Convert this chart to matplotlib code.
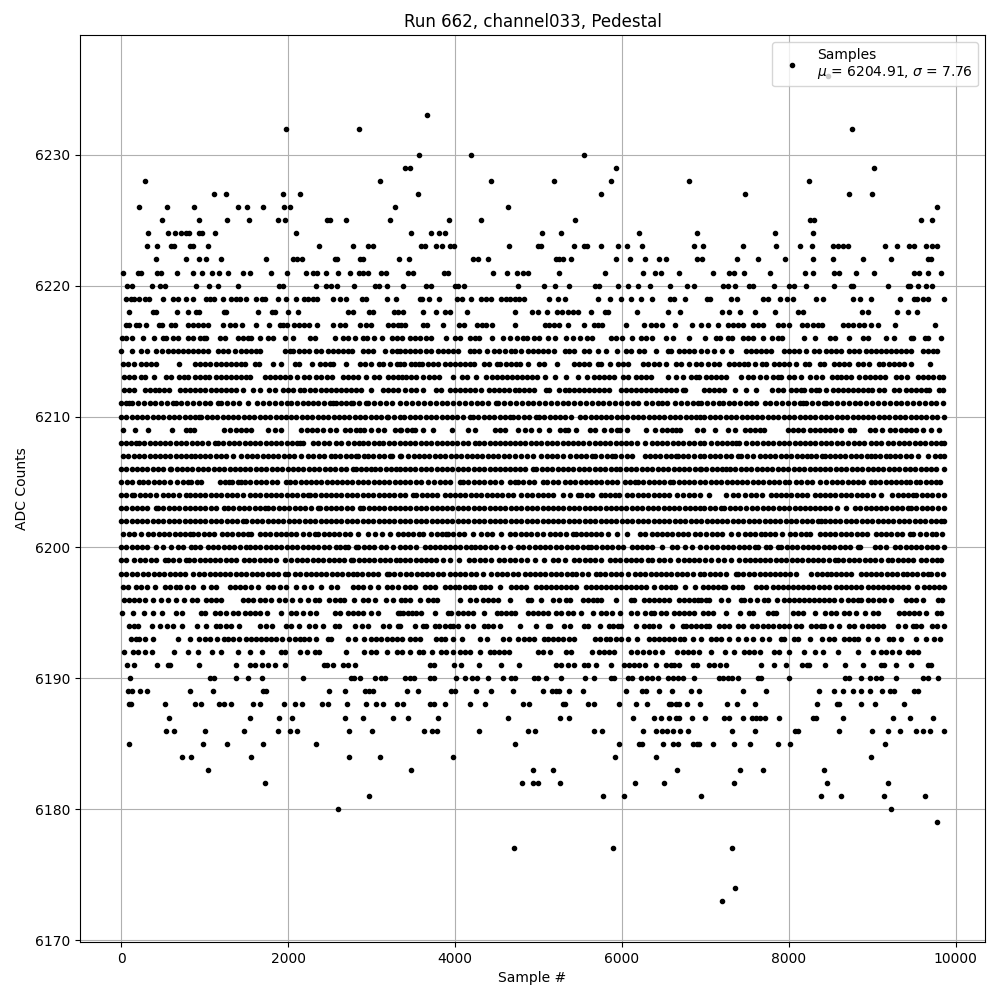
import numpy as np
import matplotlib
matplotlib.use("Agg")
import matplotlib.pyplot as plt

# sample numbers at which each ADC count was seen
s6236 = [8470]
s6233 = [3664]
s6232 = [1976, 2852, 8755]
s6230 = [3568, 4190, 5544]
s6229 = [3396, 3460, 5928, 9018]
s6228 = [284, 3104, 4430, 5185, 5868, 6802, 8240]
s6227 = [1112, 1256, 1940, 2144, 3556, 5748, 7473, 8719, 8994]
s6226 = [212, 548, 872, 1400, 1508, 1700, 1952, 2024, 3284, 4634, 9773]
s6225 = [488, 932, 1268, 1532, 1880, 1964, 2468, 2500, 2696, 3224, 3927, 4310, 5436, 8260, 8308, 9581, 9713]
s6224 = [320, 560, 644, 716, 772, 812, 932, 964, 1124, 2096, 3472, 3711, 3807, 3879, 5041, 5269, 6203, 6906, 7832, 8288]
s6223 = [308, 428, 596, 628, 820, 860, 1040, 2372, 2780, 2960, 3020, 3596, 3636, 3771, 3843, 3935, 3983, 4646, 4997, 5037,
         5424, 5544, 5584, 5748, 5951, 6059, 6239, 6862, 6970, 7449, 7844, 8132, 8276, 8527, 8587, 8647, 8707, 9150, 9294,
         9446, 9506, 9645, 9713, 9773]
s6222 = [416, 776, 932, 1016, 1196, 1736, 2060, 2108, 2168, 2564, 2588, 2860, 2900, 3332, 3448, 4222, 4274, 4394, 5213, 5253,
         5300, 5388, 5928, 6095, 6275, 6443, 6526, 6898, 6958, 7377, 7629, 7952, 8288, 8527, 8887, 9222, 9665, 9705]
s6221 = [20, 200, 240, 428, 480, 668, 860, 968, 1088, 1172, 1280, 1460, 1544, 1796, 1988, 2220, 2300, 2348, 2456, 2600, 2744,
         2852, 2900, 2960, 3120, 3172, 3436, 3496, 3867, 3915, 4454, 4622, 4742, 4813, 4873, 5245, 5796, 6251, 6395, 6467,
         6682, 7090, 7289, 7349, 7461, 7772, 8192, 8288, 8547, 8607, 8807, 9018, 9498, 9565, 9665, 9821]
s6220 = [68, 132, 368, 460, 520, 896, 1052, 1160, 1400, 1892, 1940, 2336, 2456, 2520, 2588, 2792, 3044, 3092, 3188, 3376, 3651,
         3715, 3995, 4035, 4103, 4754, 5065, 5197, 5364, 5676, 5724, 5951, 6071, 6191, 6335, 6574, 6778, 6862, 7210, 7269,
         7353, 7529, 7577, 7820, 8000, 8068, 8204, 8539, 8747, 8775, 9186, 9426, 9454, 9545, 9641, 9713]
s6219 = [60, 120, 160, 212, 280, 332, 500, 620, 684, 772, 860, 1012, 1060, 1116, 1220, 1320, 1372, 1420, 1492, 1616, 1688, 1728,
         1876, 1976, 2092, 2188, 2240, 2300, 2348, 2540, 2628, 2692, 2884, 2932, 3184, 3296, 3576, 3608, 3687, 3807, 4023,
         4083, 4190, 4314, 4374, 4434, 4554, 4606, 4662, 4714, 4766, 4825, 5133, 5241, 5313, 5712, 5856, 5987, 6115, 6227,
         6359, 6574, 6630, 6754, 7018, 7062, 7305, 7377, 7697, 7749, 7892, 7976, 8048, 8324, 8407, 8775, 8859, 8982, 9330,
         9498, 9534, 9605, 9665, 9857]
s6218 = [92, 380, 420, 668, 800, 892, 932, 1228, 1260, 1640, 1804, 1848, 2000, 2120, 2720, 2780, 2972, 3020, 3272, 3320, 3376,
         3616, 3771, 3879, 3939, 4143, 4718, 4921, 4993, 5101, 5221, 5281, 5352, 5412, 5472, 5628, 5796, 5832, 6179, 6550,
         6694, 7198, 7281, 7413, 7593, 7832, 8108, 8168, 8875, 8946, 9294, 9426, 9534]
s6217 = [60, 100, 180, 220, 296, 452, 484, 600, 640, 800, 860, 920, 980, 1040, 1220, 1304, 1360, 1448, 1616, 1772, 1900, 1940,
         1988, 2068, 2128, 2188, 2248, 2348, 2540, 2620, 2680, 2864, 2932, 3000, 3200, 3260, 3320, 3356, 3396, 3616, 3663,
         3855, 4047, 4103, 4262, 4322, 4374, 4442, 4714, 5077, 5133, 5193, 5253, 5352, 5544, 5664, 5720, 5760, 6047, 6263,
         6347, 6411, 6479, 6634, 6838, 6950, 7030, 7158, 7269, 7329, 7389, 7449, 7569, 7629, 7689, 7868, 7928, 8000, 8156,
         8216, 8288, 8348, 8400, 8647, 8707, 8767, 8847, 8907, 8986, 9066, 9270, 9749]
s6216 = [12, 60, 128, 260, 392, 500, 540, 620, 680, 800, 860, 940, 988, 1020, 1180, 1240, 1400, 1460, 1520, 1560, 1664, 1760,
         1820, 1964, 2060, 2260, 2328, 2564, 2660, 2720, 2804, 2900, 2952, 3032, 3132, 3240, 3300, 3364, 3464, 3516, 3584,
         3655, 3715, 3891, 3999, 4059, 4178, 4246, 4294, 4442, 4574, 4658, 4742, 4813, 4861, 4945, 5005, 5113, 5197, 5332,
         5412, 5496, 5580, 5640, 5868, 5932, 6000, 6119, 6227, 6291, 6359, 6526, 6610, 6802, 6994, 7130, 7182, 7269, 7321,
         7449, 7509, 7569, 7689, 7796, 7868, 7916, 8180, 8312, 8495, 8555, 8719, 8887, 8947, 9162, 9258, 9466, 9494, 9629,
         9665, 9821]
s6215 = [0, 128, 240, 308, 420, 484, 560, 620, 680, 740, 800, 860, 920, 980, 1040, 1160, 1220, 1280, 1360, 1440, 1500, 1560,
         1620, 1668, 1960, 2020, 2060, 2128, 2188, 2252, 2340, 2400, 2480, 2540, 2600, 2660, 2720, 2768, 2900, 2960, 3020,
         3160, 3240, 3300, 3336, 3396, 3456, 3516, 3576, 3655, 3715, 3795, 3855, 3915, 3975, 4035, 4175, 4234, 4294, 4382,
         4474, 4534, 4594, 4674, 4714, 4789, 4873, 4933, 4993, 5053, 5113, 5185, 5313, 5372, 5432, 5552, 5612, 5712, 5808,
         5940, 6051, 6111, 6211, 6271, 6407, 6550, 6590, 6690, 6750, 6810, 6870, 6950, 7018, 7110, 7198, 7313, 7489, 7549,
         7609, 7669, 7729, 7788, 7948, 8008, 8068, 8128, 8208, 8308, 8367, 8447, 8507, 8567, 8627, 8727, 8787, 8847, 8926,
         8986, 9046, 9106, 9166, 9226, 9286, 9346, 9406, 9466, 9605, 9665, 9725, 9773]
s6214 = [20, 80, 160, 240, 300, 360, 420, 696, 880, 940, 1000, 1060, 1140, 1200, 1252, 1312, 1380, 1440, 1488, 1600, 1652, 1820,
         1920, 2080, 2128, 2288, 2380, 2440, 2500, 2540, 2700, 2860, 2920, 3000, 3092, 3140, 3220, 3300, 3336, 3392, 3476,
         3516, 3564, 3608, 3675, 3735, 3795, 3875, 3935, 3995, 4055, 4115, 4175, 4234, 4354, 4414, 4502, 4542, 4606, 4666,
         4726, 4774, 4873, 5013, 5073, 5221, 5432, 5492, 5552, 5612, 5712, 5752, 5856, 5951, 6011, 6071, 6251, 6311, 6391,
         6451, 6531, 6650, 6710, 6810, 6890, 6950, 7030, 7110, 7162, 7289, 7349, 7409, 7469, 7509, 7593, 7677, 7729, 7828,
         7888, 7948, 8000, 8084, 8200, 8248, 8375, 8427, 8547, 8607, 8667, 8727, 8827, 8887, 8966, 9078, 9134, 9206, 9266,
         9326, 9386, 9466, 9689]
s6213 = [40, 100, 160, 240, 280, 392, 540, 600, 692, 748, 800, 880, 940, 1000, 1052, 1140, 1200, 1260, 1320, 1380, 1440, 1500,
         1548, 1728, 1788, 1848, 1908, 1968, 2028, 2108, 2188, 2252, 2340, 2400, 2468, 2532, 2660, 2720, 2780, 2840, 2940,
         3028, 3092, 3200, 3260, 3320, 3368, 3416, 3476, 3536, 3616, 3695, 3755, 3815, 3975, 4083, 4147, 4258, 4370, 4442,
         4502, 4562, 4622, 4682, 4742, 4801, 4861, 4921, 4981, 5085, 5197, 5328, 5472, 5580, 5672, 5732, 5792, 5844, 5912,
         6011, 6071, 6171, 6231, 6291, 6351, 6550, 6650, 6730, 6830, 6890, 6930, 7010, 7070, 7130, 7190, 7249, 7425, 7509,
         7569, 7653, 7725, 7808, 7868, 7908, 8008, 8068, 8148, 8252, 8328, 8400, 8519, 8579, 8627, 8687, 8747, 8839, 8915,
         8975, 9034, 9094, 9154, 9286, 9346, 9414, 9545, 9605, 9665, 9725, 9805, 9845]
s6212 = [40, 100, 160, 280, 340, 400, 452, 512, 572, 700, 760, 820, 880, 940, 1000, 1080, 1140, 1200, 1260, 1320, 1380, 1460,
         1580, 1664, 1768, 1840, 1940, 2000, 2060, 2140, 2188, 2260, 2320, 2400, 2460, 2520, 2580, 2640, 2700, 2760, 2820,
         2880, 3000, 3140, 3200, 3260, 3320, 3396, 3476, 3536, 3616, 3775, 3835, 3935, 3995, 4055, 4115, 4175, 4246, 4310,
         4406, 4466, 4526, 4586, 4646, 4714, 4766, 4833, 4893, 4953, 5093, 5133, 5253, 5313, 5372, 5432, 5492, 5552, 5612,
         5672, 5732, 5792, 5852, 5991, 6051, 6111, 6171, 6231, 6291, 6351, 6411, 6471, 6531, 6590, 6650, 6730, 6762, 6990,
         7050, 7110, 7170, 7229, 7361, 7493, 7609, 7796, 7868, 7928, 8028, 8088, 8148, 8188, 8268, 8328, 8367, 8447, 8527,
         8587, 8647, 8707, 8767, 8827, 8887, 8946, 8998, 9086, 9146, 9266, 9326, 9406, 9466, 9526, 9585, 9645, 9685, 9805, 9845]
s6211 = [0, 60, 100, 130, 200, 270, 340, 410, 480, 550, 620, 652, 720, 790, 860, 930, 1000, 1070, 1160, 1200, 1270, 1340, 1408,
         1520, 1628, 1700, 1770, 1840, 1910, 1988, 2040, 2110, 2180, 2240, 2300, 2360, 2430, 2500, 2540, 2572, 2640, 2700,
         2760, 2780, 2850, 2940, 2960, 3030, 3100, 3170, 3240, 3340, 3416, 3490, 3560, 3630, 3700, 3770, 3840, 3910, 3980,
         4050, 4120, 4190, 4260, 4330, 4400, 4496, 4516, 4590, 4660, 4730, 4800, 4870, 4940, 5010, 5080, 5150, 5220, 5290,
         5360, 5430, 5500, 5570, 5640, 5710, 5780, 5850, 5920, 5990, 6060, 6136, 6196, 6288, 6360, 6430, 6480, 6536, 6636,
         6710, 6780, 6856, 6916, 6950, 7020, 7090, 7162, 7210, 7280, 7350, 7420, 7490, 7550, 7610, 7710, 7780, 7850, 7920,
         7990, 8060, 8130, 8170, 8210, 8280, 8350, 8420, 8450, 8510, 8580, 8650, 8720, 8790, 8860, 8930, 9000, 9070, 9140,
         9210, 9280, 9350, 9420, 9490, 9560, 9630, 9700, 9770, 9850]
s6210 = [0, 62, 125, 190, 250, 315, 380, 440, 505, 570, 630, 695, 760, 820, 885, 928, 960, 1025, 1090, 1150, 1215, 1280, 1340,
         1405, 1470, 1530, 1595, 1660, 1720, 1785, 1850, 1910, 1975, 2040, 2100, 2165, 2230, 2290, 2355, 2420, 2480, 2545,
         2610, 2670, 2735, 2800, 2860, 2925, 2990, 3050, 3115, 3180, 3200, 3265, 3340, 3395, 3460, 3525, 3585, 3650, 3715,
         3775, 3840, 3905, 3965, 4030, 4095, 4184, 4216, 4280, 4345, 4405, 4470, 4535, 4595, 4656, 4696, 4760, 4825, 4885,
         4976, 5008, 5070, 5135, 5200, 5260, 5316, 5396, 5496, 5560, 5625, 5685, 5750, 5815, 5875, 5940, 6005, 6065, 6130,
         6195, 6255, 6320, 6385, 6445, 6510, 6575, 6635, 6700, 6765, 6825, 6890, 6936, 6990, 7055, 7115, 7180, 7245, 7305,
         7370, 7435, 7495, 7560, 7625, 7685, 7750, 7815, 7875, 7940, 8005, 8065, 8130, 8195, 8255, 8320, 8385, 8445, 8510,
         8575, 8635, 8700, 8765, 8825, 8890, 8955, 9015, 9080, 9145, 9205, 9270, 9335, 9395, 9460, 9525, 9585, 9650, 9715,
         9775, 9859]
s6209 = [20, 164, 316, 608, 772, 820, 876, 1232, 1300, 1380, 1440, 1500, 1560, 1760, 1840, 1920, 2160, 2225, 2290, 2350, 2415,
         2500, 2576, 2680, 2745, 2810, 2860, 2912, 3000, 3080, 3152, 3280, 3340, 3356, 3420, 3480, 3516, 3616, 3736, 3968,
         4156, 4236, 4476, 4540, 4596, 4756, 4840, 4916, 5008, 5128, 5256, 5320, 5356, 5456, 5616, 5676, 5788, 5876, 5940,
         5976, 6064, 6292, 6400, 6476, 6540, 6600, 6650, 6696, 6896, 6978, 7114, 7270, 7362, 7470, 7530, 7590, 7650, 7702,
         7990, 8050, 8110, 8174, 8250, 8310, 8370, 8430, 8495, 8560, 8630, 8730, 8778, 8978, 9030, 9122, 9210, 9275, 9340,
         9400, 9465, 9530, 9610, 9710, 9802]
s6208 = [0, 60, 120, 180, 212, 275, 340, 400, 465, 530, 590, 655, 720, 780, 845, 910, 970, 1035, 1120, 1160, 1225, 1290, 1350,
         1415, 1480, 1540, 1605, 1670, 1730, 1795, 1860, 1920, 1985, 2050, 2110, 2140, 2180, 2300, 2365, 2430, 2495, 2580,
         2640, 2720, 2785, 2850, 2900, 2960, 3025, 3092, 3140, 3205, 3270, 3340, 3396, 3460, 3525, 3590, 3650, 3715, 3780,
         3840, 3905, 3970, 4030, 4095, 4160, 4236, 4288, 4350, 4415, 4480, 4540, 4605, 4656, 4716, 4780, 4845, 4910, 4970,
         5035, 5100, 5160, 5225, 5290, 5350, 5415, 5480, 5540, 5605, 5676, 5736, 5800, 5860, 5925, 5990, 6050, 6115, 6180,
         6276, 6356, 6420, 6485, 6536, 6616, 6676, 6736, 6800, 6865, 6936, 6990, 7070, 7135, 7200, 7260, 7325, 7370, 7410,
         7482, 7562, 7625, 7690, 7750, 7815, 7880, 7940, 8005, 8070, 8130, 8195, 8260, 8320, 8385, 8450, 8510, 8575, 8640,
         8710, 8778, 8840, 8905, 8990, 9050, 9110, 9190, 9255, 9320, 9380, 9445, 9510, 9570, 9635, 9700, 9760, 9825, 9859]
s6207 = [20, 85, 160, 212, 275, 340, 400, 465, 530, 590, 655, 720, 780, 840, 880, 945, 1010, 1070, 1135, 1200, 1260, 1340, 1440,
         1505, 1570, 1630, 1695, 1760, 1820, 1885, 1950, 2010, 2075, 2160, 2240, 2305, 2370, 2430, 2520, 2560, 2625, 2690,
         2750, 2820, 2840, 2905, 2960, 3020, 3085, 3150, 3220, 3240, 3340, 3356, 3436, 3504, 3570, 3635, 3695, 3760, 3825,
         3885, 3950, 4015, 4075, 4140, 4205, 4265, 4330, 4395, 4455, 4520, 4585, 4645, 4716, 4796, 4860, 4936, 5036, 5100,
         5165, 5225, 5290, 5376, 5448, 5516, 5576, 5640, 5676, 5756, 5820, 5885, 5916, 5996, 6060, 6116, 6276, 6336, 6396,
         6460, 6525, 6585, 6650, 6676, 6728, 6796, 6860, 6936, 6990, 7055, 7120, 7180, 7245, 7310, 7390, 7430, 7495, 7570,
         7650, 7715, 7775, 7840, 7905, 7965, 8030, 8095, 8155, 8220, 8270, 8330, 8395, 8430, 8490, 8555, 8620, 8680, 8745,
         8810, 8870, 8935, 8990, 9030, 9095, 9160, 9210, 9270, 9335, 9400, 9470, 9554, 9670, 9750, 9810, 9859]
s6206 = [0, 62, 125, 190, 250, 315, 380, 440, 505, 580, 600, 665, 730, 790, 855, 920, 980, 1045, 1110, 1170, 1235, 1300, 1360,
         1425, 1490, 1550, 1615, 1680, 1740, 1805, 1870, 1930, 1995, 2060, 2120, 2185, 2250, 2310, 2375, 2440, 2500, 2565,
         2630, 2690, 2780, 2812, 2875, 2940, 3000, 3040, 3105, 3170, 3230, 3295, 3340, 3400, 3465, 3525, 3590, 3655, 3715,
         3780, 3845, 3905, 3970, 4035, 4095, 4160, 4225, 4285, 4350, 4415, 4475, 4540, 4596, 4656, 4720, 4785, 4845, 4936,
         4976, 5040, 5105, 5165, 5230, 5295, 5355, 5420, 5485, 5545, 5610, 5675, 5735, 5800, 5865, 5936, 5984, 6050, 6115,
         6175, 6240, 6305, 6365, 6430, 6495, 6555, 6620, 6685, 6745, 6810, 6875, 6936, 6950, 7010, 7075, 7140, 7200, 7250,
         7298, 7360, 7425, 7490, 7550, 7615, 7680, 7740, 7805, 7870, 7930, 7995, 8060, 8120, 8185, 8250, 8310, 8375, 8440,
         8500, 8565, 8630, 8690, 8755, 8820, 8880, 8945, 9010, 9070, 9135, 9200, 9260, 9325, 9390, 9450, 9515, 9580, 9640,
         9705, 9770, 9859]
s6205 = [0, 65, 130, 220, 260, 325, 390, 450, 515, 588, 664, 740, 800, 840, 905, 960, 1188, 1250, 1292, 1332, 1395, 1440, 1488,
         1550, 1615, 1680, 1740, 1805, 1870, 1980, 2020, 2085, 2150, 2210, 2275, 2340, 2400, 2465, 2530, 2590, 2652, 2708,
         2770, 2835, 2900, 2960, 3025, 3090, 3150, 3215, 3280, 3340, 3400, 3465, 3530, 3590, 3676, 3748, 3816, 3880, 3945,
         4056, 4096, 4160, 4225, 4285, 4350, 4415, 4475, 4548, 4656, 4716, 4756, 4820, 4885, 4945, 5056, 5108, 5170, 5235,
         5316, 5376, 5440, 5505, 5565, 5630, 5695, 5755, 5820, 5885, 5945, 6036, 6096, 6160, 6196, 6256, 6320, 6385, 6445,
         6510, 6576, 6616, 6680, 6745, 6805, 6870, 6936, 7000, 7065, 7125, 7190, 7255, 7315, 7380, 7445, 7505, 7570, 7635,
         7695, 7760, 7825, 7885, 7950, 8002, 8090, 8150, 8215, 8280, 8370, 8442, 8518, 8578, 8642, 8705, 8770, 8830, 8895,
         8990, 9030, 9095, 9160, 9220, 9285, 9350, 9410, 9450, 9530, 9578, 9640, 9705, 9765, 9818]
s6204 = [0, 60, 132, 160, 225, 290, 350, 420, 500, 560, 625, 690, 772, 820, 885, 950, 1010, 1075, 1140, 1200, 1265, 1330, 1390,
         1455, 1540, 1600, 1668, 1730, 1795, 1860, 1920, 1985, 2050, 2110, 2175, 2240, 2260, 2325, 2390, 2450, 2515, 2580,
         2640, 2705, 2770, 2830, 2895, 2960, 3020, 3085, 3150, 3210, 3275, 3340, 3400, 3496, 3536, 3600, 3665, 3725, 3790,
         3876, 3936, 4000, 4065, 4125, 4190, 4255, 4315, 4380, 4445, 4505, 4570, 4635, 4695, 4796, 4864, 4928, 4990, 5055,
         5115, 5180, 5296, 5376, 5476, 5516, 5580, 5645, 5756, 5796, 5860, 5916, 5968, 6064, 6125, 6190, 6255, 6315, 6380,
         6445, 6505, 6570, 6656, 6736, 6800, 6865, 6936, 7050, 7246, 7330, 7395, 7470, 7550, 7610, 7675, 7790, 7842, 7905,
         7970, 8030, 8095, 8160, 8220, 8310, 8370, 8435, 8500, 8560, 8625, 8690, 8750, 8815, 8880, 8940, 9005, 9110, 9242,
         9305, 9370, 9430, 9490, 9530, 9595, 9660, 9720, 9785, 9859]
s6203 = [0, 60, 125, 190, 250, 315, 420, 440, 505, 570, 630, 695, 760, 820, 885, 950, 1010, 1075, 1140, 1228, 1280, 1345, 1410,
         1470, 1535, 1600, 1660, 1720, 1760, 1825, 1890, 1950, 2015, 2080, 2140, 2205, 2270, 2360, 2388, 2450, 2515, 2580,
         2640, 2705, 2770, 2860, 2900, 2965, 3030, 3090, 3155, 3220, 3280, 3340, 3400, 3465, 3530, 3590, 3655, 3720, 3780,
         3845, 3910, 3970, 4035, 4100, 4160, 4225, 4290, 4350, 4415, 4480, 4540, 4605, 4670, 4730, 4795, 4860, 4920, 4985,
         5050, 5110, 5175, 5240, 5300, 5365, 5430, 5490, 5555, 5616, 5676, 5740, 5805, 5865, 5930, 5995, 6055, 6120, 6185,
         6245, 6310, 6375, 6435, 6500, 6565, 6625, 6690, 6755, 6815, 6880, 6936, 6990, 7055, 7120, 7190, 7230, 7295, 7360,
         7420, 7482, 7562, 7625, 7690, 7750, 7815, 7880, 7940, 8005, 8070, 8130, 8195, 8250, 8310, 8375, 8440, 8500, 8578,
         8690, 8790, 8855, 8920, 8980, 9045, 9110, 9170, 9235, 9300, 9360, 9425, 9470, 9530, 9595, 9660, 9720, 9785, 9859]
s6202 = [0, 62, 125, 190, 250, 315, 380, 440, 505, 570, 630, 695, 760, 820, 885, 950, 1010, 1075, 1140, 1200, 1265, 1330, 1390,
         1460, 1500, 1565, 1630, 1690, 1755, 1820, 1880, 1945, 2010, 2070, 2135, 2200, 2260, 2325, 2390, 2450, 2515, 2580,
         2640, 2705, 2770, 2830, 2895, 2960, 3020, 3085, 3150, 3210, 3275, 3340, 3400, 3465, 3530, 3590, 3655, 3720, 3780,
         3845, 3910, 3970, 4035, 4100, 4160, 4225, 4290, 4350, 4415, 4480, 4540, 4605, 4670, 4730, 4795, 4860, 4920, 4985,
         5050, 5110, 5175, 5240, 5300, 5365, 5430, 5490, 5555, 5620, 5680, 5745, 5810, 5870, 5935, 6000, 6060, 6125, 6190,
         6250, 6315, 6380, 6440, 6505, 6570, 6636, 6696, 6760, 6825, 6885, 6950, 7015, 7075, 7140, 7205, 7265, 7330, 7395,
         7455, 7520, 7585, 7645, 7710, 7775, 7835, 7900, 7965, 8025, 8090, 8155, 8215, 8280, 8345, 8390, 8430, 8495, 8560,
         8620, 8685, 8750, 8810, 8875, 8940, 9000, 9065, 9130, 9190, 9255, 9320, 9380, 9445, 9510, 9570, 9635, 9700, 9760,
         9825, 9859]
s6201 = [28, 90, 160, 240, 320, 385, 450, 510, 575, 640, 700, 765, 820, 860, 925, 990, 1050, 1115, 1212, 1268, 1330, 1395, 1460,
         1520, 1560, 1660, 1720, 1785, 1850, 1910, 1975, 2040, 2100, 2180, 2250, 2320, 2360, 2425, 2490, 2550, 2615, 2680,
         2740, 2840, 2960, 3040, 3128, 3220, 3320, 3376, 3436, 3500, 3565, 3616, 3716, 3780, 3845, 3896, 3916, 3980, 4045,
         4105, 4216, 4316, 4380, 4445, 4556, 4664, 4725, 4790, 4855, 4915, 4980, 5056, 5136, 5200, 5265, 5325, 5416, 5456,
         5516, 5568, 5630, 5695, 5755, 5836, 5944, 6056, 6216, 6280, 6356, 6416, 6480, 6545, 6605, 6670, 6735, 6796, 6876,
         6936, 7010, 7075, 7140, 7200, 7310, 7390, 7470, 7535, 7600, 7670, 7714, 7775, 7830, 7918, 8018, 8080, 8145, 8210,
         8254, 8370, 8435, 8500, 8560, 8625, 8690, 8750, 8815, 8880, 8940, 9050, 9110, 9170, 9230, 9298, 9360, 9450, 9490,
         9570, 9650, 9715, 9770, 9838]
s6200 = [0, 62, 125, 190, 250, 315, 420, 500, 592, 680, 745, 840, 888, 950, 1040, 1100, 1165, 1230, 1290, 1355, 1420, 1500, 1540,
         1605, 1670, 1730, 1795, 1860, 1920, 1985, 2050, 2110, 2175, 2240, 2300, 2365, 2430, 2490, 2580, 2620, 2680, 2720,
         2812, 2840, 2905, 2970, 3030, 3120, 3172, 3260, 3340, 3400, 3465, 3530, 3636, 3696, 3760, 3816, 3876, 3940, 4005,
         4065, 4130, 4196, 4240, 4304, 4365, 4430, 4495, 4576, 4656, 4756, 4820, 4885, 4956, 5016, 5080, 5145, 5216, 5276,
         5340, 5405, 5465, 5530, 5595, 5636, 5696, 5760, 5825, 5885, 5950, 6015, 6116, 6176, 6240, 6305, 6356, 6484, 6596,
         6660, 6756, 6836, 6936, 7010, 7082, 7145, 7210, 7270, 7335, 7400, 7460, 7525, 7590, 7630, 7730, 7778, 7870, 7910,
         7975, 8040, 8100, 8165, 8230, 8290, 8355, 8420, 8480, 8545, 8610, 8670, 8735, 8830, 8850, 9030, 9095, 9160, 9270,
         9338, 9400, 9465, 9530, 9590, 9655, 9720, 9780, 9859]
s6199 = [0, 60, 152, 228, 290, 355, 420, 520, 560, 625, 690, 780, 812, 875, 940, 1000, 1065, 1130, 1190, 1255, 1320, 1380, 1472,
         1532, 1595, 1660, 1720, 1785, 1850, 1960, 2040, 2105, 2170, 2230, 2295, 2360, 2420, 2485, 2550, 2610, 2675, 2760,
         2780, 2845, 2910, 2970, 3035, 3100, 3160, 3225, 3290, 3340, 3400, 3465, 3530, 3590, 3655, 3716, 3776, 3856, 3940,
         4048, 4168, 4230, 4295, 4360, 4436, 4528, 4590, 4655, 4720, 4796, 4864, 4956, 5064, 5176, 5236, 5320, 5428, 5490,
         5555, 5620, 5680, 5745, 5856, 5916, 5980, 6045, 6105, 6170, 6235, 6316, 6364, 6448, 6510, 6576, 6676, 6740, 6805,
         6865, 6930, 7000, 7065, 7150, 7230, 7310, 7410, 7470, 7530, 7590, 7655, 7720, 7780, 7845, 7910, 7970, 8035, 8100,
         8160, 8225, 8290, 8350, 8415, 8480, 8550, 8590, 8655, 8720, 8780, 8845, 8910, 8970, 9035, 9100, 9190, 9242, 9305,
         9370, 9430, 9495, 9590, 9650, 9715, 9780, 9830]
s6198 = [0, 62, 125, 188, 260, 325, 390, 450, 515, 580, 640, 705, 770, 860, 932, 995, 1060, 1120, 1185, 1250, 1310, 1375, 1440,
         1500, 1565, 1630, 1690, 1755, 1820, 1880, 1960, 2000, 2080, 2145, 2210, 2270, 2335, 2400, 2460, 2525, 2590, 2650,
         2715, 2780, 2828, 2890, 2955, 3020, 3080, 3180, 3212, 3275, 3340, 3416, 3476, 3540, 3605, 3665, 3730, 3795, 3855,
         3936, 4000, 4065, 4125, 4190, 4255, 4336, 4436, 4500, 4565, 4625, 4690, 4755, 4836, 4896, 4960, 5025, 5085, 5150,
         5215, 5275, 5340, 5405, 5456, 5528, 5590, 5696, 5736, 5800, 5865, 5925, 5990, 6076, 6156, 6216, 6280, 6345, 6405,
         6470, 6535, 6595, 6660, 6725, 6785, 6850, 6936, 6990, 7055, 7120, 7180, 7245, 7370, 7390, 7455, 7520, 7580, 7650,
         7710, 7770, 7830, 7895, 7960, 8020, 8090, 8270, 8335, 8400, 8460, 8510, 8562, 8625, 8690, 8750, 8870, 8922, 8985,
         9050, 9110, 9175, 9240, 9300, 9370, 9418, 9478, 9540, 9605, 9665, 9710, 9778, 9850]
s6197 = [20, 80, 180, 240, 312, 404, 520, 580, 660, 700, 788, 860, 976, 1080, 1140, 1300, 1360, 1420, 1480, 1560, 1640, 1760, 1820,
         1900, 1972, 2100, 2188, 2280, 2400, 2520, 2588, 2780, 2840, 2900, 2980, 3080, 3180, 3240, 3312, 3396, 3456, 3516,
         3647, 3703, 3767, 3875, 3935, 3995, 4047, 4115, 4175, 4234, 4314, 4366, 4422, 4546, 4674, 4734, 4793, 4853, 4973,
         5033, 5093, 5153, 5213, 5273, 5332, 5392, 5452, 5572, 5632, 5692, 5752, 5812, 5872, 5932, 5991, 6051, 6111, 6171,
         6231, 6291, 6387, 6471, 6530, 6590, 6642, 6758, 6874, 6970, 7030, 7090, 7150, 7210, 7241, 7329, 7389, 7437, 7609,
         7669, 7729, 7808, 7868, 7928, 7988, 8048, 8108, 8168, 8228, 8288, 8367, 8427, 8487, 8567, 8627, 8687, 8747, 8807,
         8867, 8946, 9006, 9066, 9126, 9186, 9246, 9306, 9366, 9426, 9534, 9625, 9685, 9745, 9805, 9859]
s6196 = [40, 100, 160, 220, 280, 380, 480, 560, 660, 752, 852, 908, 1020, 1080, 1140, 1196, 1460, 1520, 1580, 1660, 1720, 1800,
         1892, 1964, 2052, 2140, 2240, 2320, 2372, 2492, 2560, 2620, 2672, 2792, 2900, 2960, 3040, 3172, 3260, 3356, 3396,
         3460, 3580, 3675, 3735, 3783, 4063, 4178, 4250, 4334, 4394, 4454, 4522, 4654, 4873, 4913, 5029, 5173, 5245, 5332,
         5380, 5532, 5592, 5652, 5700, 5752, 5928, 6111, 6151, 6271, 6331, 6391, 6451, 6510, 6570, 6690, 6750, 6810, 6870,
         6910, 6950, 7010, 7050, 7190, 7269, 7429, 7469, 7533, 7617, 7709, 7749, 7856, 7948, 8008, 8068, 8128, 8188, 8248,
         8308, 8367, 8427, 8487, 8547, 8627, 8707, 8767, 8827, 8867, 8946, 9006, 9078, 9146, 9226, 9406, 9466, 9526, 9605,
         9785, 9837]
s6195 = [12, 140, 272, 380, 488, 660, 732, 960, 1000, 1128, 1188, 1260, 1340, 1400, 1480, 1540, 1600, 1660, 1748, 1912, 2032, 2100,
         2180, 2268, 2332, 2560, 2620, 2720, 2780, 2840, 2900, 3000, 3080, 3312, 3336, 3376, 3436, 3488, 3536, 3596, 3767,
         3915, 3955, 4035, 4095, 4155, 4215, 4346, 4502, 4554, 4614, 4674, 4722, 4873, 4933, 4993, 5053, 5113, 5213, 5273,
         5352, 5412, 5512, 5652, 5752, 5812, 5880, 5975, 6111, 6179, 6283, 6351, 6387, 6467, 6530, 6622, 6690, 6750, 6810,
         6870, 6970, 7030, 7090, 7245, 7413, 7529, 7569, 7749, 7808, 7848, 8048, 8108, 8168, 8312, 8431, 8507, 8567, 8659,
         8727, 8807, 8910, 9006, 9066, 9326, 9386, 9446, 9506, 9565, 9641, 9773, 9825]
s6194 = [100, 160, 200, 368, 464, 552, 620, 728, 904, 1016, 1140, 1180, 1260, 1320, 1412, 1664, 1740, 1808, 1972, 2040, 2132, 2252,
         2320, 2420, 2560, 2612, 2804, 2888, 2960, 3140, 3212, 3320, 3336, 3524, 3616, 3655, 3767, 3815, 3875, 3935, 3975,
         4035, 4143, 4222, 4354, 4394, 4454, 4538, 4774, 4969, 5113, 5141, 5305, 5376, 5552, 5592, 5736, 5844, 5892, 5951,
         5991, 6167, 6271, 6331, 6379, 6443, 6606, 6730, 6770, 6830, 6890, 6950, 7010, 7050, 7170, 7229, 7289, 7389, 7449,
         7561, 7617, 7689, 7749, 7808, 7888, 7948, 8000, 8088, 8148, 8268, 8328, 8387, 8427, 8507, 8599, 8727, 8787, 8875,
         8946, 9006, 9066, 9126, 9306, 9390, 9486, 9526, 9581, 9713, 9773, 9857]
s6193 = [120, 180, 212, 280, 380, 676, 824, 932, 1000, 1060, 1148, 1228, 1280, 1340, 1412, 1500, 1560, 1620, 1680, 1740, 1800, 1860,
         1932, 2012, 2080, 2140, 2188, 2252, 2336, 2480, 2520, 2720, 2800, 2912, 3000, 3060, 3120, 3180, 3240, 3300, 3364,
         3456, 3516, 3576, 3775, 3835, 3875, 3975, 4083, 4302, 4390, 4574, 4646, 4754, 4833, 4893, 4953, 5073, 5121, 5181,
         5233, 5300, 5372, 5432, 5680, 5740, 5812, 5860, 5932, 5991, 6071, 6183, 6331, 6391, 6451, 6510, 6570, 6630, 6698,
         6750, 6850, 6950, 7070, 7130, 7190, 7289, 7389, 7485, 7569, 7677, 7769, 7908, 7948, 8068, 8108, 8256, 8400, 8487,
         8547, 8659, 8727, 8787, 8827, 8946, 9054, 9206, 9246, 9346, 9526, 9645, 9745, 9813]
s6192 = [40, 140, 200, 280, 368, 632, 800, 920, 1088, 1196, 1396, 1544, 1684, 1912, 1960, 2140, 2228, 2320, 2372, 2696, 2912, 3000,
         3060, 3188, 3308, 3364, 3460, 3568, 3616, 3723, 3835, 3895, 3975, 4055, 4115, 4183, 4298, 4422, 4474, 4526, 4590,
         4646, 4993, 5053, 5145, 5332, 5392, 5640, 5732, 5792, 5852, 5912, 6107, 6179, 6251, 6323, 6395, 6479, 6658, 6730,
         6790, 6850, 6930, 7070, 7233, 7341, 7469, 7529, 7589, 7657, 7828, 7888, 8000, 8180, 8312, 8407, 8587, 8827, 9006,
         9106, 9166, 9238, 9326, 9426, 9486, 9545]
s6191 = [68, 152, 428, 560, 588, 932, 1376, 1544, 1604, 1688, 1760, 1844, 1964, 2432, 2468, 2540, 2660, 2720, 2804, 3703, 3755, 3987,
         4071, 4286, 4550, 4766, 5213, 5273, 5352, 5424, 5552, 5592, 5688, 5868, 6031, 6091, 6151, 6211, 6275, 6411, 6530,
         6590, 6630, 6690, 6850, 6898, 7042, 7102, 7182, 7249, 7669, 7820, 7968, 8156, 8216, 8248, 8431, 8671, 8887, 9106,
         9146, 9282, 9462, 9665, 9705]
s6190 = [104, 1060, 1116, 1376, 1520, 1688, 2180, 2760, 2788, 2864, 3044, 3120, 3160, 3396, 3456, 3504, 3703, 3755, 4011, 4119, 4202,
         4262, 4394, 4574, 4674, 4718, 4945, 4993, 5089, 5269, 5556, 5664, 5872, 5912, 6071, 6119, 6227, 6299, 6359, 6431,
         6550, 6610, 6670, 6730, 6862, 7170, 7217, 7269, 7317, 7389, 7629, 7669, 8000, 8671, 8719, 8863, 8970, 9046, 9106,
         9282, 9605, 9665, 9785]
s6189 = [80, 128, 224, 308, 824, 1100, 1700, 1740, 2492, 2684, 2920, 2972, 3020, 3424, 3556, 3947, 3995, 4250, 4430, 4694, 5053, 5161,
         5213, 5253, 5364, 5532, 6047, 6239, 6291, 6443, 6598, 6826, 6922, 7449, 7725, 8360, 8539, 8647, 8767, 8863, 8970,
         9118, 9214, 9266, 9506, 9545]
s6188 = [92, 124, 520, 884, 956, 1172, 1232, 1316, 1580, 1664, 1952, 2084, 2168, 2408, 2480, 2708, 2936, 3056, 3140, 3308, 3372, 3699,
         3747, 3879, 4178, 4358, 4813, 4893, 5293, 5320, 5592, 5664, 5963, 6167, 6299, 6562, 6590, 6650, 6690, 6778, 6942,
         7257, 7377, 7593, 8336, 8575, 8607, 8863, 9030, 9378]
s6187 = [572, 1544, 1892, 2052, 2684, 2900, 3260, 3436, 3795, 4634, 5257, 5364, 6131, 6383, 6467, 6562, 6646, 6682, 6838, 6994, 7229,
         7281, 7449, 7557, 7609, 7661, 7713, 7880, 8288, 8328, 8647, 9246, 9450, 9725]
s6186 = [536, 632, 1004, 1472, 1880, 2024, 2108, 2732, 3008, 3627, 3723, 3783, 4286, 4873, 4957, 5664, 5760, 6251, 6407, 6479, 6538,
         6610, 6694, 6790, 7317, 7593, 8080, 8108, 8599, 8994, 9186, 9330, 9522, 9605, 9689, 9857]
s6185 = [92, 980, 1268, 1700, 2336, 4718, 5963, 6211, 6239, 6490, 6610, 6670, 6850, 6898, 6930, 7090, 7341, 7533, 7868, 8012, 9150]
s6184 = [728, 836, 1556, 2732, 3104, 3975, 5916, 6407, 8982]
s6183 = [1040, 3472, 4933, 5173, 6658, 7413, 7689, 8419]
s6182 = [1724, 4801, 4933, 4993, 5257, 6155, 6503, 7341, 8455, 9186]
s6181 = [2972, 5772, 6023, 6950, 8383, 8623, 9138, 9629]
s6180 = [2600, 9222]
s6179 = [9773]
s6177 = [4706, 5892, 7317]
s6174 = [7353]
s6173 = [7198]

adc_counts = [6236, 6233, 6232, 6230, 6229, 6228, 6227, 6226, 6225, 6224, 6223, 6222, 6221, 6220, 6219, 6218, 6217, 6216,
              6215, 6214, 6213, 6212, 6211, 6210, 6209, 6208, 6207, 6206, 6205, 6204, 6203, 6202, 6201, 6200, 6199, 6198,
              6197, 6196, 6195, 6194, 6193, 6192, 6191, 6190, 6189, 6188, 6187, 6186, 6185, 6184, 6183, 6182, 6181, 6180,
              6179, 6177, 6174, 6173]
samples = [s6236, s6233, s6232, s6230, s6229, s6228, s6227, s6226, s6225, s6224, s6223, s6222, s6221, s6220, s6219, s6218,
           s6217, s6216, s6215, s6214, s6213, s6212, s6211, s6210, s6209, s6208, s6207, s6206, s6205, s6204, s6203, s6202,
           s6201, s6200, s6199, s6198, s6197, s6196, s6195, s6194, s6193, s6192, s6191, s6190, s6189, s6188, s6187, s6186,
           s6185, s6184, s6183, s6182, s6181, s6180, s6179, s6177, s6174, s6173]

x = np.concatenate([np.array(s) for s in samples])
y = np.concatenate([np.full(len(s), c) for s, c in zip(samples, adc_counts)])

fig, ax = plt.subplots(figsize=(10, 10))
ax.plot(x, y, "k.", label="Samples\n$\\mu$ = 6204.91, $\\sigma$ = 7.76")
ax.set_title("Run 662, channel033, Pedestal")
ax.set_xlabel("Sample #")
ax.set_ylabel("ADC Counts")
ax.grid(True)
ax.legend(loc="upper right")
fig.subplots_adjust(left=0.08, right=0.985, bottom=0.058, top=0.965)
plt.savefig("out.png", dpi=100)
